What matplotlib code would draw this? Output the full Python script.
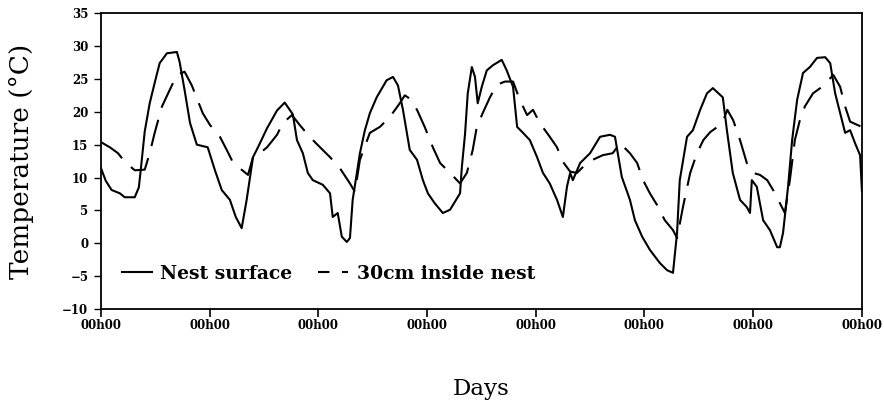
import matplotlib
matplotlib.use("Agg")
import matplotlib.pyplot as plt
from matplotlib.lines import Line2D

# Hours since the first midnight, and temperature (°C)
surface_hours = [0.0, 1.1, 2.4, 4.2, 5.3, 7.5, 8.4, 8.8, 9.7, 10.8, 11.9, 13.0, 14.6, 16.8,
                 17.4, 18.5, 19.7, 21.2, 23.6, 25.2, 26.7, 28.5, 29.8, 31.1, 32.2, 33.6,
                 34.7, 36.7, 38.9, 40.6, 42.4, 43.3, 44.6, 45.7, 46.8, 49.0, 50.6, 51.2,
                 52.3, 53.2, 54.3, 55.0, 55.6, 57.2, 58.3, 59.4, 60.9, 63.1, 64.5, 65.6,
                 66.7, 68.2, 69.8, 71.1, 72.2, 73.7, 75.5, 77.1, 79.3, 79.7, 80.4, 81.0,
                 81.9, 82.6, 83.2, 84.1, 85.2, 86.6, 88.5, 89.6, 91.0, 91.9, 93.2, 94.7,
                 96.3, 97.6, 99.1, 100.7, 102.0, 102.9, 103.6, 104.2, 105.8, 108.0, 110.2,
                 112.4, 113.5, 115.0, 116.8, 117.9, 119.5, 121.2, 123.4, 125.0, 126.3,
                 127.2, 127.8, 129.4, 130.7, 132.3, 133.8, 135.1, 137.3, 138.2, 139.5,
                 141.1, 142.6, 143.3, 143.7, 144.8, 146.2, 147.7, 149.3, 149.9, 150.6,
                 151.7, 152.6, 153.7, 155.0, 156.5, 158.1, 159.9, 161.0, 162.1, 163.2,
                 164.3, 165.4, 166.5, 167.6, 168.0]
surface_temp = [11.5, 9.5, 8.1, 7.6, 7.0, 7.0, 8.5, 11.0, 17.0, 21.3, 24.4, 27.4, 28.9, 29.1,
                27.6, 23.3, 18.3, 15.0, 14.6, 11.1, 8.1, 6.6, 4.0, 2.3, 6.6, 13.1,
                14.6, 17.5, 20.2, 21.4, 19.6, 15.7, 13.7, 10.7, 9.6, 8.9, 7.6, 4.0,
                4.6, 1.0, 0.2, 0.8, 6.6, 13.7, 17.2, 19.8, 22.2, 24.8, 25.3, 24.0,
                20.3, 14.2, 12.7, 9.6, 7.6, 6.1, 4.6, 5.1, 7.6, 11.6, 16.6, 22.8,
                26.8, 25.3, 21.3, 23.8, 26.3, 27.1, 27.9, 26.3, 23.8, 17.7, 16.8, 15.7,
                13.1, 10.7, 9.1, 6.6, 4.0, 8.6, 10.7, 9.6, 12.2, 13.7, 16.2,
                16.5, 16.2, 10.1, 6.6, 3.5, 1.0, -1.0, -3.0, -4.1, -4.5,
                1.6, 9.6, 16.2, 17.2, 20.3, 22.8, 23.6, 22.2, 17.2, 10.7,
                6.6, 5.5, 4.6, 9.6, 8.6, 3.5, 2.0, -0.6, -0.6, 1.6,
                8.6, 15.7, 21.8, 25.9, 26.8, 28.2, 28.3, 27.4, 22.8, 19.8,
                16.8, 17.2, 15.2, 13.4, 8.0]

inside_hours = [0.0, 2.0, 3.8, 5.3, 7.5, 9.7, 10.8, 11.9, 13.5, 15.2, 16.8, 18.5, 20.1, 22.5,
                24.1, 26.3, 27.8, 29.1, 30.7, 32.5, 33.6, 35.1, 36.7, 38.9, 40.2, 42.2,
                43.9, 46.1, 48.4, 50.6, 52.8, 55.0, 56.1, 57.2, 59.4, 61.6, 63.8, 66.0,
                67.1, 68.2, 69.8, 71.5, 73.3, 74.9, 77.1, 79.3, 80.8, 82.1, 83.0, 84.3,
                85.9, 87.4, 89.2, 91.0, 92.5, 94.1, 95.4, 96.9, 99.1, 100.7, 102.0,
                103.6, 105.1, 107.3, 108.6, 110.8, 113.0, 114.6, 116.8, 118.4, 119.7,
                121.2, 122.8, 124.5, 126.3, 127.2, 128.5, 130.1, 131.6, 133.0, 134.5,
                136.1, 137.4, 138.3, 139.6, 141.1, 142.6, 144.0, 145.5, 147.1, 148.4,
                149.9, 151.0, 152.1, 153.2, 154.3, 155.4, 157.2, 158.8, 160.3, 161.7,
                163.2, 164.3, 165.4, 167.0, 168.0]
inside_temp = [15.4, 14.6, 13.7, 12.4, 11.1, 11.2, 13.7, 16.8, 20.8, 23.3, 25.6, 26.1, 24.0, 19.8,
               18.0, 16.2, 14.2, 12.4, 11.4, 10.4, 13.1, 13.7, 14.6, 16.5, 18.3, 19.5,
               18.0, 16.2, 14.6, 13.1, 11.4, 9.1, 7.8, 12.7, 16.8, 17.7, 19.2, 21.3,
               22.5, 22.0, 20.3, 17.7, 14.6, 12.2, 10.7, 9.1, 10.7, 14.2, 17.7, 19.8,
               22.2, 24.1, 24.6, 24.6, 21.8, 19.5, 20.3, 18.3, 16.2, 14.6, 12.4,
               10.9, 10.7, 12.2, 12.7, 13.4, 13.7, 15.2, 13.7, 12.2, 9.6,
               7.6, 5.8, 3.5, 2.0, 0.8, 5.5, 10.7, 13.7, 15.7, 16.9,
               17.7, 18.7, 20.3, 18.7, 15.7, 12.2, 10.7, 10.4, 9.6, 8.1,
               6.1, 4.6, 9.6, 15.7, 18.7, 20.8, 22.8, 23.6, 24.6, 25.6,
               23.8, 20.8, 18.5, 18.0, 17.7]

day_ticks = [0, 24, 48, 72, 96, 120, 144, 168]
day_labels = ["00h00"] * len(day_ticks)
temp_ticks = [-10, -5, 0, 5, 10, 15, 20, 25, 30, 35]

fig = plt.figure(figsize=(8.84, 4.12), dpi=100)
ax = fig.add_axes([0.114, 0.25, 0.861, 0.718])

ax.plot(surface_hours, surface_temp, color="black", lw=1.5)
ax.plot(inside_hours, inside_temp, color="black", lw=1.5, dashes=(13, 6))

ax.set_xlim(0, 168)
ax.set_ylim(-10, 35)
ax.set_xticks(day_ticks)
ax.set_xticklabels(day_labels)
ax.set_yticks(temp_ticks)

for lab in ax.get_xticklabels() + ax.get_yticklabels():
    lab.set_fontfamily("DejaVu Serif")
    lab.set_fontweight("bold")
    lab.set_fontsize(8.5)

ax.tick_params(axis="x", direction="out", length=6, width=1.2, pad=1)
ax.tick_params(axis="y", direction="out", length=5, width=1.0, pad=4)
for sp in ax.spines.values():
    sp.set_linewidth(1.3)

ax.set_ylabel("Temperature (°C)", family="DejaVu Serif", fontsize=19, labelpad=20)
ax.set_xlabel("Days", family="DejaVu Serif", fontsize=16.5, labelpad=33)

# Legend keys: short dashes so two of them fit in the key
handles = [Line2D([], [], color="black", lw=1.5),
           Line2D([], [], color="black", lw=1.5, dashes=(5.5, 6))]
ax.legend(handles, ["Nest surface", "30cm inside nest"],
          loc="lower left", bbox_to_anchor=(0.01, 0.045), ncol=2, frameon=False,
          prop={"family": "DejaVu Serif", "size": 13.5, "weight": "bold"},
          handlelength=1.6, handletextpad=0.45, columnspacing=1.4, borderpad=0.2)

fig.savefig("out.png", dpi=100)
